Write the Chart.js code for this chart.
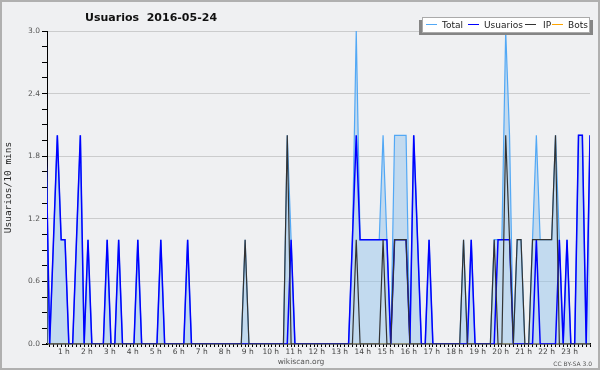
<!DOCTYPE html>
<html>
<head>
<meta charset="utf-8">
<script src="https://cdn.jsdelivr.net/npm/chart.js@4.4.1/dist/chart.umd.min.js"></script>
<style>
  html, body { margin: 0; padding: 0; background: #eff0f2; }
  #wrap { width: 600px; height: 370px; }
</style>
</head>
<body>
<div id="wrap"><canvas id="usersChart" width="600" height="370"></canvas></div>
<script>
// 10 minute slots of the day, slot 6 = 1 h
const slots = [];
for (let i = 0; i <= 142; i++) slots.push(i);

const hourLabels = ['1 h', '2 h', '3 h', '4 h', '5 h', '6 h', '7 h', '8 h', '9 h', '10 h', '11 h', '12 h',
                    '13 h', '14 h', '15 h', '16 h', '17 h', '18 h', '19 h', '20 h', '21 h', '22 h', '23 h'];
const yLabels = [0, 0.6, 1.2, 1.8, 2.4, 3.0];

const total = [
  2,0,1,2,1,1,0,0,1,2,0,1,
  0,0,0,0,1,0,0,1,0,0,0,0,
  1,0,0,0,0,0,1,0,0,0,0,0,
  0,1,0,0,0,0,0,0,0,0,0,0,
  0,0,0,0,1,0,0,0,0,0,0,0,
  0,0,0,2,1,0,0,0,0,0,0,0,
  0,0,0,0,0,0,0,0,1,3,1,1,
  1,1,1,1,2,1,0,2,2,2,2,0,
  2,1,0,0,1,0,0,0,0,0,0,0,
  0,1,0,1,0,0,0,0,0,1,1,1,
  3,2,0,1,1,0,0,1,2,1,1,1,
  1,2,1,0,1,0,0,2,2,0,2
];
const usuarios = [
  2,0,1,2,1,1,0,0,1,2,0,1,
  0,0,0,0,1,0,0,1,0,0,0,0,
  1,0,0,0,0,0,1,0,0,0,0,0,
  0,1,0,0,0,0,0,0,0,0,0,0,
  0,0,0,0,0,0,0,0,0,0,0,0,
  0,0,0,0,1,0,0,0,0,0,0,0,
  0,0,0,0,0,0,0,0,1,2,1,1,
  1,1,1,1,1,1,0,1,1,1,1,0,
  2,1,0,0,1,0,0,0,0,0,0,0,
  0,0,0,1,0,0,0,0,0,0,1,1,
  1,1,0,0,0,0,0,0,1,0,0,0,
  0,0,1,0,1,0,0,2,2,0,2
];
const ip = [
  0,0,0,0,0,0,0,0,0,0,0,0,
  0,0,0,0,0,0,0,0,0,0,0,0,
  0,0,0,0,0,0,0,0,0,0,0,0,
  0,0,0,0,0,0,0,0,0,0,0,0,
  0,0,0,0,1,0,0,0,0,0,0,0,
  0,0,0,2,0,0,0,0,0,0,0,0,
  0,0,0,0,0,0,0,0,0,1,0,0,
  0,0,0,0,1,0,0,1,1,1,1,0,
  0,0,0,0,0,0,0,0,0,0,0,0,
  0,1,0,0,0,0,0,0,0,1,0,0,
  2,1,0,1,1,0,0,1,1,1,1,1,
  1,2,0,0,0,0,0,0,0,0,0
];
const bots = [
  0,0,0,0,0,0,0,0,0,0,0,0,
  0,0,0,0,0,0,0,0,0,0,0,0,
  0,0,0,0,0,0,0,0,0,0,0,0,
  0,0,0,0,0,0,0,0,0,0,0,0,
  0,0,0,0,0,0,0,0,0,0,0,0,
  0,0,0,0,0,0,0,0,0,0,0,0,
  0,0,0,0,0,0,0,0,0,0,0,0,
  0,0,0,0,0,0,0,0,0,0,0,0,
  0,0,0,0,0,0,0,0,0,0,0,0,
  0,0,0,0,0,0,0,0,0,0,0,0,
  0,0,0,0,0,0,0,0,0,0,0,0,
  0,0,0,0,0,0,0,0,0,0,0
];

const bg = '#eff0f2';
const isMajor = v => Math.abs(v / 0.6 - Math.round(v / 0.6)) < 1e-6;

// background, frame, title, legend box and footer
const decor = {
  id: 'decor',
  beforeDraw(chart) {
    const ctx = chart.ctx;
    ctx.save();
    ctx.fillStyle = bg;
    ctx.fillRect(0, 0, chart.width, chart.height);
    ctx.restore();
  },
  afterDraw(chart) {
    const ctx = chart.ctx;
    ctx.save();
    ctx.strokeStyle = '#b0b0b0';
    ctx.lineWidth = 2;
    ctx.strokeRect(1, 1, 598, 368);

    ctx.fillStyle = '#111';
    ctx.font = 'bold 11px "DejaVu Sans"';
    ctx.fillText('Usuarios  2016-05-24', 85, 21);

    // legend
    ctx.fillStyle = '#858585';
    ctx.fillRect(419, 20, 174, 15);
    ctx.fillStyle = '#fff';
    ctx.fillRect(422, 17, 167, 15);
    ctx.strokeStyle = '#aaa';
    ctx.lineWidth = 1;
    ctx.strokeRect(422.5, 17.5, 167, 15);
    const lineX = [426, 468, 525, 552];
    const textX = [442, 484, 543, 568];
    ctx.font = '9px "DejaVu Sans"';
    chart.data.datasets.forEach((ds, k) => {
      ctx.strokeStyle = ds.borderColor;
      ctx.lineWidth = 1;
      ctx.beginPath();
      ctx.moveTo(lineX[k], 24.5);
      ctx.lineTo(lineX[k] + 11, 24.5);
      ctx.stroke();
      ctx.fillStyle = '#222';
      ctx.fillText(ds.label, textX[k], 28);
    });

    ctx.fillStyle = '#555';
    ctx.font = '7.5px "DejaVu Sans"';
    ctx.textAlign = 'center';
    ctx.fillText('wikiscan.org', 301, 364);
    ctx.textAlign = 'right';
    ctx.font = '6px "DejaVu Sans"';
    ctx.fillText('CC BY-SA 3.0', 592, 366);
    ctx.restore();
  }
};

new Chart(document.getElementById('usersChart'), {
  type: 'line',
  data: {
    labels: slots,
    datasets: [
      {
        label: 'Total',
        data: total,
        borderColor: '#52a8f5',
        backgroundColor: 'rgba(150, 196, 236, 0.5)',
        borderWidth: 1.2,
        fill: 'origin',
        order: 2,
      },
      {
        label: 'Usuarios',
        data: usuarios,
        borderColor: '#0000ff',
        borderWidth: 1.5,
        fill: false,
        order: 1,
      },
      {
        label: 'IP',
        data: ip,
        borderColor: '#333333',
        borderWidth: 1.2,
        fill: false,
        order: 0,
      },
      {
        label: 'Bots',
        data: bots,
        borderColor: '#ffa500',
        borderWidth: 1,
        fill: false,
        order: 3,
      },
    ],
  },
  options: {
    responsive: false,
    animation: false,
    elements: { point: { radius: 0 }, line: { tension: 0 } },
    layout: { padding: { top: 31, right: 10, bottom: 0, left: 0 } },
    plugins: { legend: { display: false }, tooltip: { enabled: false } },
    scales: {
      x: {
        type: 'linear',
        min: 0.3,
        max: 142,
        z: 1,
        afterBuildTicks: axis => { axis.ticks = slots.filter(s => s >= 1).map(s => ({ value: s })); },
        afterFit: axis => { axis.height = 26; },
        ticks: {
          autoSkip: false,
          maxRotation: 0,
          padding: 1,
          labelOffset: -5,
          color: '#444',
          font: { family: 'DejaVu Sans', size: 7.5 },
          callback: v => (v % 6 === 0 ? hourLabels[v / 6 - 1] : ''),
        },
        grid: { drawOnChartArea: false, tickLength: 3, tickColor: '#000' },
        border: { color: '#000', width: 1.5 },
      },
      y: {
        min: 0,
        max: 3,
        afterBuildTicks: axis => {
          const t = [];
          for (let k = 0; k <= 20; k++) t.push({ value: +(k * 0.15).toFixed(2) });
          axis.ticks = t;
        },
        afterFit: axis => { axis.width = 47; },
        ticks: {
          autoSkip: false,
          padding: 2,
          color: '#555',
          font: { family: 'DejaVu Sans', size: 7.5 },
          callback: v => (isMajor(v) && yLabels.includes(+v.toFixed(1)) ? v.toFixed(1) : ''),
        },
        grid: {
          color: c => (c.tick && isMajor(c.tick.value) && c.tick.value > 0 ? '#cbcccd' : 'rgba(0,0,0,0)'),
          tickColor: '#000',
          tickLength: 5,
        },
        border: { color: '#000', width: 1 },
        title: {
          display: true,
          text: 'Usuarios/10 mins',
          color: '#222',
          padding: { top: 3, bottom: 0 },
          font: { family: 'DejaVu Sans Mono', size: 9.5 },
        },
      },
    },
  },
  plugins: [decor],
});
</script>
</body>
</html>
